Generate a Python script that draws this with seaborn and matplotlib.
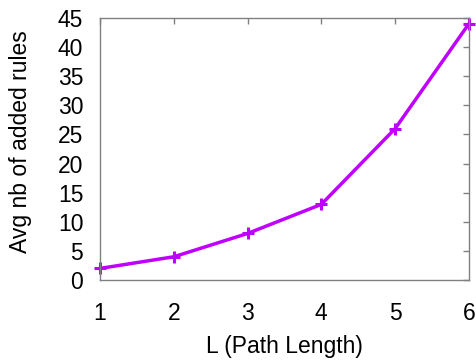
import matplotlib
matplotlib.use("Agg")
import matplotlib.pyplot as plt
import seaborn as sns
import pandas as pd

# data
path_length = [1, 2, 3, 4, 5, 6]
avg_added_rules = [2, 4, 8, 13, 26, 44]

sns.set_style("white")
plt.rcParams['font.family'] = ['Liberation Sans', 'DejaVu Sans']
plt.rcParams['text.color'] = 'black'
plt.rcParams['axes.labelcolor'] = 'black'
plt.rcParams['xtick.labelcolor'] = 'black'
plt.rcParams['ytick.labelcolor'] = 'black'

df = pd.DataFrame({'L': path_length, 'rules': avg_added_rules})

fig = plt.figure(figsize=(4.76, 3.6), dpi=100)
ax = fig.add_axes([0.21, 0.222, 0.775, 0.728])

sns.lineplot(data=df, x='L', y='rules', ax=ax, color='#c000ff', linewidth=2.5,
             marker='+', markersize=9, markeredgewidth=2.2, markeredgecolor='#c000ff',
             clip_on=False)

ax.set_xlim(1, 6)
ax.set_ylim(0, 45)
ax.set_xticks(range(1, 7))
ax.set_yticks(range(0, 46, 5))
ax.tick_params(direction='in', length=4, width=1, color='#808080', labelsize=16.5,
               top=True, right=True, labeltop=False, labelright=False)
ax.tick_params(axis='y', pad=12)
ax.tick_params(axis='x', pad=16)
for s in ax.spines.values():
    s.set_color('#808080')
    s.set_linewidth(1)

ax.set_xlabel('L (Path Length)', fontsize=16.5)
ax.set_ylabel('Avg nb of added rules', fontsize=16.5)
ax.yaxis.set_label_coords(-0.185, 0.53)
ax.xaxis.set_label_coords(0.5, -0.21)

fig.savefig('out.png', dpi=100)
